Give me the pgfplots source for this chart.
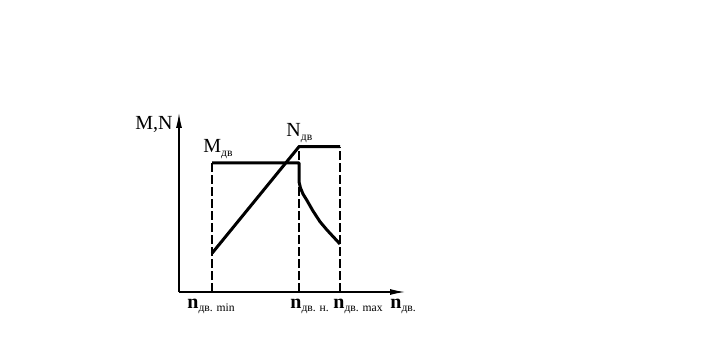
\documentclass[border=0pt]{standalone}
\usepackage{fontspec}
\setmainfont{Liberation Serif}
\usepackage{pgfplots}
\pgfplotsset{compat=1.18}
\usetikzlibrary{arrows.meta}
\newcommand{\sub}[1]{\raisebox{-0.4ex}{\fontsize{5.8}{6}\selectfont #1}}
\begin{document}
\begin{tikzpicture}[x=1pt,y=1pt]
\path[use as bounding box] (0,0) rectangle (364,179.5);
\begin{axis}[at={(89.5pt,33.5pt)}, anchor=south west,
  width=113pt, height=89.5pt, scale only axis,
  xmin=0, xmax=226, ymin=0, ymax=179,
  axis lines=left,
  axis line style={line width=0.6pt, -{Latex[length=7.5pt,width=3pt]}},
  xtick=\empty, ytick=\empty, clip=false,
  every node/.style={font=\fontsize{8.5}{10}\selectfont}]
\addplot[black, line width=0.85pt, dash pattern=on 4.5pt off 1.5pt] coordinates {(33,0) (33,129)};
\addplot[black, line width=0.85pt, dash pattern=on 4.5pt off 1.5pt] coordinates {(120,0) (120,145.3)};
\addplot[black, line width=0.85pt, dash pattern=on 4.5pt off 1.5pt] coordinates {(161,0) (161,145.3)};
\addplot[black, line width=1.5pt, line join=round] coordinates {(33,129) (120,129) (120,110.3) (121.5,104) (124,98) (127.7,92) (134,81) (141,70.3) (148,62) (154,55.5) (161,48)};
\addplot[black, line width=1.5pt, line join=miter] coordinates {(33,38.7) (120,145.3) (161,145.3)};
\node[anchor=base west, inner sep=0pt] at (axis cs:-44,162) {M,N};
\node[anchor=base west, inner sep=0pt] at (axis cs:24,139) {M\sub{дв}};
\node[anchor=base west, inner sep=0pt] at (axis cs:107,155) {N\sub{дв}};
\node[anchor=base west, inner sep=0pt] at (axis cs:8,-16) {\textbf{n}\sub{дв. min}};
\node[anchor=base west, inner sep=0pt] at (axis cs:111,-16) {\textbf{n}\sub{дв. н.}};
\node[anchor=base west, inner sep=0pt] at (axis cs:154,-16) {\textbf{n}\sub{дв. max}};
\node[anchor=base west, inner sep=0pt] at (axis cs:211,-16) {\textbf{n}\sub{дв.}};
\end{axis}
\end{tikzpicture}
\end{document}
